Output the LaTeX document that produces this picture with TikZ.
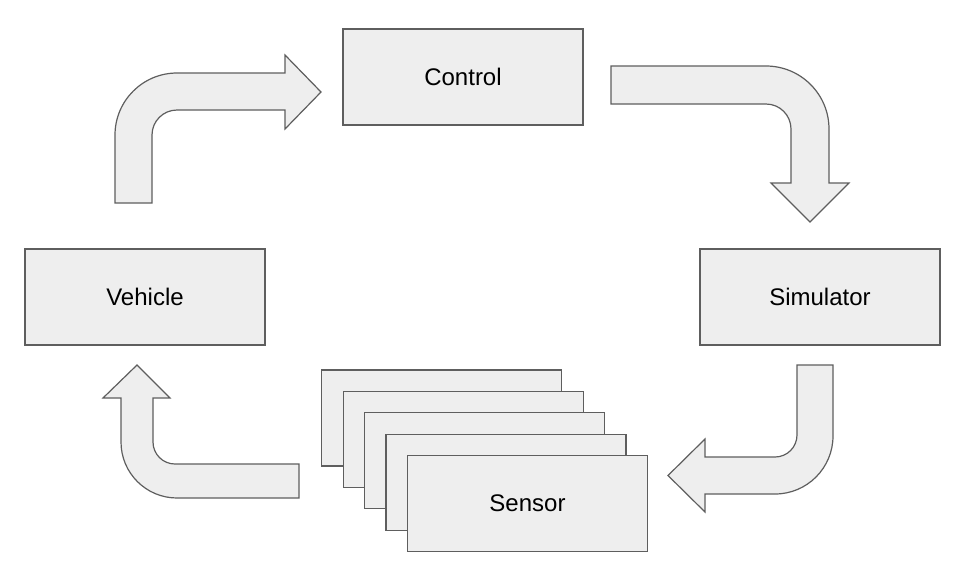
\documentclass[tikz,border=0pt]{standalone}
\usepackage{fontspec}
\setmainfont{Liberation Sans}
\usepackage{tikz}
\definecolor{boxfill}{HTML}{EEEEEE}
\definecolor{boxline}{HTML}{5E5E5E}

\begin{document}
\begin{tikzpicture}[x=0.5pt, y=-0.5pt,
  block/.style={rectangle, draw=boxline, fill=boxfill, line width=0.65pt,
    minimum width=120pt, minimum height=48pt, inner sep=0pt,
    font=\fontsize{12}{14}\selectfont},
  bigarrow/.style={draw=boxline, fill=boxfill, line width=0.6pt, line join=miter}]
\useasboundingbox (0,0) rectangle (965,580);
% boxes
\node [block] (control) at (463,77) {Control};
\node [block] (vehicle) at (145,297) {Vehicle};
\node [block] (simulator) at (820,297) {Simulator};
% sensor stack
\foreach \i in {0,...,3}
  \node [block] (sensor\i) at (441.7+21.45*\i, 418+21.4*\i) {};
\node [block] (sensor) at (527.5,503.7) {Sensor};
% vehicle -> control
\draw [bigarrow] (115,203) -- (115,135) arc[start angle=180, end angle=270, radius=62]
  -- (285,73) -- (285,55) -- (321,92) -- (285,129) -- (285,110) -- (177,110)
  arc[start angle=270, end angle=180, radius=25] -- (152,203) -- cycle;
% control -> simulator
\draw [bigarrow] (611,66) -- (766,66) arc[start angle=270, end angle=360, radius=63]
  -- (829,183) -- (849,183) -- (810,222) -- (771,183) -- (791,183) -- (791,129)
  arc[start angle=0, end angle=-90, radius=25] -- (611,104) -- cycle;
% simulator -> sensor
\draw [bigarrow] (797,365) -- (833,365) -- (833,436) arc[start angle=0, end angle=90, radius=58]
  -- (705,494) -- (705,512) -- (668,475.5) -- (705,439) -- (705,457) -- (775,457)
  arc[start angle=90, end angle=0, radius=22] -- cycle;
% sensor -> vehicle
\draw [bigarrow] (299,464) -- (299,498) -- (177,498) arc[start angle=90, end angle=180, radius=56]
  -- (121,398) -- (103,398) -- (137,365) -- (170,398) -- (153,398) -- (153,442)
  arc[start angle=180, end angle=90, radius=22] -- cycle;
\end{tikzpicture}
\end{document}
